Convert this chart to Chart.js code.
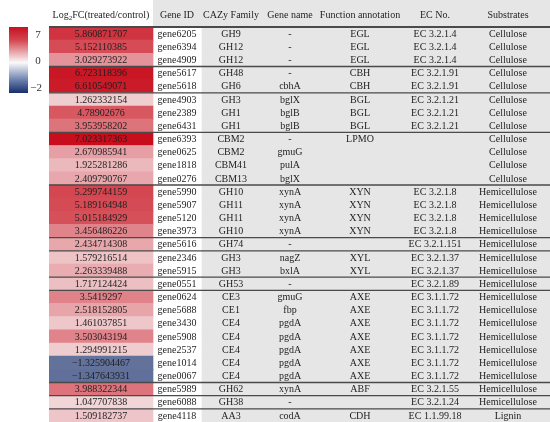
<!DOCTYPE html>
<html>
<head>
<meta charset="utf-8">
<script src="https://cdn.jsdelivr.net/npm/chart.js@4.4.1/dist/chart.umd.min.js"></script>
<style>
  html, body { margin: 0; padding: 0; background: #fff; }
  #wrap { width: 550px; height: 422px; }
</style>
</head>
<body>
<div id="wrap"><canvas id="tabel" width="550" height="422"></canvas></div>
<script>
const log2fc = [5.860871707, 5.152110385, 3.029273922, 6.723118396, 6.610549071,
  1.262332154, 4.78902676, 3.953958202, 7.023317363, 2.670985941, 1.925281286,
  2.409790767, 5.299744159, 5.189164948, 5.015184929, 3.456486226, 2.434714308,
  1.579216514, 2.263339488, 1.717124424, 3.5419297, 2.518152805, 1.461037851,
  3.503043194, 1.294991215, -1.325904467, -1.347643931, 3.988322344, 1.047707838,
  1.509182737];
const geneIds = ['gene6205', 'gene6394', 'gene4909', 'gene5617', 'gene5618',
  'gene4903', 'gene2389', 'gene6431', 'gene6393', 'gene0625', 'gene1818',
  'gene0276', 'gene5990', 'gene5907', 'gene5120', 'gene3973', 'gene5616',
  'gene2346', 'gene5915', 'gene0551', 'gene0624', 'gene5688', 'gene3430',
  'gene5908', 'gene2537', 'gene1014', 'gene0067', 'gene5989', 'gene6088',
  'gene4118'];
const cazyFamily = ['GH9', 'GH12', 'GH12', 'GH48', 'GH6', 'GH3', 'GH1', 'GH1',
  'CBM2', 'CBM2', 'CBM41', 'CBM13', 'GH10', 'GH11', 'GH11', 'GH10', 'GH74',
  'GH3', 'GH3', 'GH53', 'CE3', 'CE1', 'CE4', 'CE4', 'CE4', 'CE4', 'CE4',
  'GH62', 'GH38', 'AA3'];
const geneName = ['-', '-', '-', '-', 'cbhA', 'bglX', 'bglB', 'bglB', '-', 'gmuG',
  'pulA', 'bglX', 'xynA', 'xynA', 'xynA', 'xynA', '-', 'nagZ', 'bxlA', '-',
  'gmuG', 'fbp', 'pgdA', 'pgdA', 'pgdA', 'pgdA', 'pgdA', 'xynA', '-', 'codA'];
const funcAnno = ['EGL', 'EGL', 'EGL', 'CBH', 'CBH', 'BGL', 'BGL', 'BGL', 'LPMO',
  '', '', '', 'XYN', 'XYN', 'XYN', 'XYN', '', 'XYL', 'XYL', '', 'AXE', 'AXE',
  'AXE', 'AXE', 'AXE', 'AXE', 'AXE', 'ABF', '', 'CDH'];
const ecNo = ['EC 3.2.1.4', 'EC 3.2.1.4', 'EC 3.2.1.4', 'EC 3.2.1.91',
  'EC 3.2.1.91', 'EC 3.2.1.21', 'EC 3.2.1.21', 'EC 3.2.1.21', '', '', '', '',
  'EC 3.2.1.8', 'EC 3.2.1.8', 'EC 3.2.1.8', 'EC 3.2.1.8', 'EC 3.2.1.151',
  'EC 3.2.1.37', 'EC 3.2.1.37', 'EC 3.2.1.89', 'EC 3.1.1.72', 'EC 3.1.1.72',
  'EC 3.1.1.72', 'EC 3.1.1.72', 'EC 3.1.1.72', 'EC 3.1.1.72', 'EC 3.1.1.72',
  'EC 3.2.1.55', 'EC 3.2.1.24', 'EC 1.1.99.18'];
const substrates = ['Cellulose', 'Cellulose', 'Cellulose', 'Cellulose',
  'Cellulose', 'Cellulose', 'Cellulose', 'Cellulose', 'Cellulose', 'Cellulose',
  'Cellulose', 'Cellulose', 'Hemicellulose', 'Hemicellulose', 'Hemicellulose',
  'Hemicellulose', 'Hemicellulose', 'Hemicellulose', 'Hemicellulose',
  'Hemicellulose', 'Hemicellulose', 'Hemicellulose', 'Hemicellulose',
  'Hemicellulose', 'Hemicellulose', 'Hemicellulose', 'Hemicellulose',
  'Hemicellulose', 'Hemicellulose', 'Lignin'];
// groups end after these rows (1-based)
const groupEnds = [3, 5, 8, 12, 16, 17, 19, 20, 27, 28, 29];
const legendTicks = [7, 0, -2];

// layout (table x units = px from table left)
const heatCol = [0, 104];
const grayCols = [153, 501];
const colCenters = { heat: 52, id: 128, cazy: 182, name: 241, func: 311, ec: 386, subs: 459 };
const FONT = '10px "Liberation Serif", "Times New Roman", serif';

const white = [248, 248, 248], red = [200, 14, 28], blue = [22, 46, 108];
function heatColor(v) {
  const t = v >= 0 ? Math.min(v / 7, 1) : Math.min(-v / 2, 1);
  const end = v >= 0 ? red : blue;
  return 'rgb(' + white.map((w, i) => Math.round(w + (end[i] - w) * t)).join(',') + ')';
}
function fmt(v) { return String(v).replace('-', '\u2212'); }

const tablePlugin = {
  id: 'tablePlugin',
  beforeDatasetsDraw(chart) {
    const c = chart.ctx, x = chart.scales.x;
    c.save();
    c.fillStyle = '#e6e6e6';
    c.fillRect(x.getPixelForValue(grayCols[0]) - 49 + 49, 0, chart.width, chart.chartArea.top);
    // gene id header is gray too
    c.fillRect(x.getPixelForValue(heatCol[1]), 0, x.getPixelForValue(grayCols[0]) - x.getPixelForValue(heatCol[1]), chart.chartArea.top);
    c.restore();
  },
  afterDatasetsDraw(chart) {
    const c = chart.ctx, x = chart.scales.x, y = chart.scales.y, area = chart.chartArea;
    c.save();
    c.font = FONT;
    c.fillStyle = '#1e1e1e';
    c.textAlign = 'center';
    c.textBaseline = 'middle';
    geneIds.forEach((g, i) => {
      const py = y.getPixelForValue(i) + 0.5;
      c.fillText(fmt(log2fc[i]), x.getPixelForValue(colCenters.heat), py);
      c.fillText(g, x.getPixelForValue(colCenters.id), py);
      c.fillText(cazyFamily[i], x.getPixelForValue(colCenters.cazy), py);
      c.fillText(geneName[i], x.getPixelForValue(colCenters.name), py);
      c.fillText(funcAnno[i], x.getPixelForValue(colCenters.func), py);
      c.fillText(ecNo[i], x.getPixelForValue(colCenters.ec), py);
      c.fillText(substrates[i], x.getPixelForValue(colCenters.subs), py);
    });

    // header
    const hy = 15;
    const hx = x.getPixelForValue(colCenters.heat);
    const small = '7px "Liberation Serif", serif';
    c.textAlign = 'left';
    const w1 = c.measureText('Log').width;
    const w3 = c.measureText('FC(treated/control)').width;
    c.font = small;
    const w2 = c.measureText('2').width;
    let sx = hx - (w1 + w2 + w3) / 2;
    c.font = FONT;
    c.fillText('Log', sx, hy);
    c.font = small;
    c.fillText('2', sx + w1, hy + 3);
    c.font = FONT;
    c.fillText('FC(treated/control)', sx + w1 + w2, hy);
    c.textAlign = 'center';
    c.fillText('Gene ID', x.getPixelForValue(colCenters.id), hy);
    c.fillText('CAZy Family', x.getPixelForValue(colCenters.cazy), hy);
    c.fillText('Gene name', x.getPixelForValue(colCenters.name), hy);
    c.fillText('Function annotation', x.getPixelForValue(colCenters.func), hy);
    c.fillText('EC No.', x.getPixelForValue(colCenters.ec), hy);
    c.fillText('Substrates', x.getPixelForValue(colCenters.subs), hy);

    // lines
    c.strokeStyle = '#4a4a4a';
    c.lineWidth = 1.8;
    c.beginPath();
    c.moveTo(area.left, area.top);
    c.lineTo(area.right, area.top);
    c.stroke();
    c.lineWidth = 1.3;
    groupEnds.forEach(r => {
      const ly = (y.getPixelForValue(r - 1) + y.getPixelForValue(r)) / 2;
      c.beginPath();
      c.moveTo(area.left, ly);
      c.lineTo(area.right, ly);
      c.stroke();
    });

    // colour bar
    const bx = 9, bw = 19, bt = 27, bb = 93;
    const grad = c.createLinearGradient(0, bt, 0, bb);
    grad.addColorStop(0, 'rgb(200,16,32)');
    grad.addColorStop(0.2, 'rgb(212,70,80)');
    grad.addColorStop(0.54, 'rgb(250,250,250)');
    grad.addColorStop(0.8, 'rgb(110,130,175)');
    grad.addColorStop(1, 'rgb(22,46,108)');
    c.fillStyle = grad;
    c.fillRect(bx, bt, bw, bb - bt);
    const tickPos = { 7: 35, 0: 61, '-2': 88 };
    c.fillStyle = '#333';
    c.font = '11px "Liberation Serif", serif';
    legendTicks.forEach(t => {
      c.textAlign = t < 0 ? 'right' : 'center';
      c.fillText(fmt(t), t < 0 ? 42 : 38, tickPos[t]);
    });
    c.restore();
  }
};

new Chart(document.getElementById('tabel'), {
  type: 'bar',
  data: {
    labels: geneIds,
    datasets: [
      {
        label: 'Log2FC',
        data: log2fc.map(() => heatCol),
        backgroundColor: log2fc.map(heatColor),
        borderWidth: 0,
        grouped: false,
        barPercentage: 1,
        categoryPercentage: 1
      },
      {
        label: 'bg',
        data: geneIds.map(() => grayCols),
        backgroundColor: '#e6e6e6',
        borderWidth: 0,
        grouped: false,
        barPercentage: 1,
        categoryPercentage: 1
      }
    ]
  },
  options: {
    indexAxis: 'y',
    responsive: false,
    animation: false,
    layout: { padding: { left: 49, top: 27, right: 0, bottom: 0 } },
    scales: {
      x: { type: 'linear', min: 0, max: 501, display: false },
      y: { display: false }
    },
    plugins: { legend: { display: false }, tooltip: { enabled: false } }
  },
  plugins: [tablePlugin]
});
</script>
</body>
</html>
